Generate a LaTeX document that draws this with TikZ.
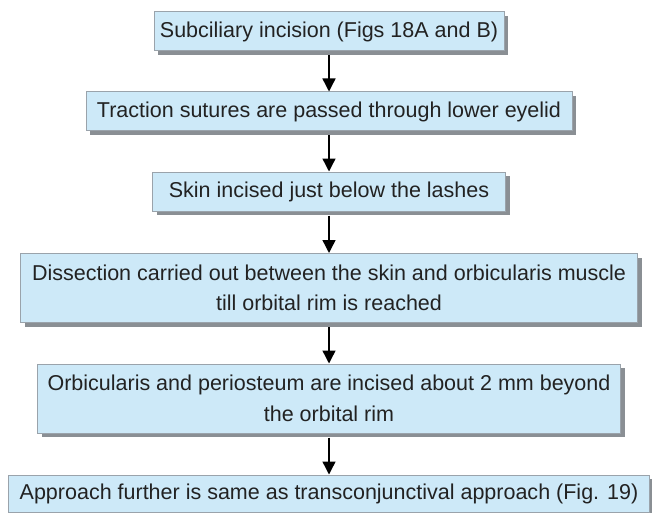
\documentclass[tikz,border=0pt]{standalone}
\usepackage{fontspec}
\setmainfont{Liberation Sans}
\usetikzlibrary{arrows.meta,shadows}
\definecolor{boxfill}{HTML}{CDE9F8}
\definecolor{boxline}{HTML}{9AA3AB}
\definecolor{shadowc}{HTML}{8A8F94}
\definecolor{txt}{HTML}{222222}
\begin{document}
\begin{tikzpicture}[x=1pt,y=-1pt,
  flowbox/.style={draw=boxline, line width=1pt, fill=boxfill, inner sep=0pt,
    align=center, text=txt, font=\fontsize{21.5}{30.5}\selectfont,
    drop shadow={shadow xshift=4pt, shadow yshift=-4pt, fill=shadowc, opacity=1}},
  arr/.style={draw=black, line width=1.4pt, -{Triangle[width=13pt,length=13pt]}, shorten <=4pt}]
\useasboundingbox (0,0) rectangle (652,513);
\node[flowbox, minimum width=350pt, minimum height=39pt] (b1) at (329,31.5) {Subciliary incision (Figs 18A and B)};
\node[flowbox, minimum width=486pt, minimum height=39pt] (b2) at (329,111.5) {Traction sutures are passed through lower eyelid};
\node[flowbox, minimum width=353pt, minimum height=39pt] (b3) at (329,191.5) {Skin incised just below the lashes};
\node[flowbox, minimum width=617pt, minimum height=69pt] (b4) at (329,288) {Dissection carried out between the skin and orbicularis muscle\\till orbital rim is reached};
\node[flowbox, minimum width=583pt, minimum height=69pt] (b5) at (329,398.5) {Orbicularis and periosteum are incised about 2 mm beyond\\the orbital rim};
\node[flowbox, minimum width=641pt, minimum height=37pt] (b6) at (329,493.5) {Approach further is same as transconjunctival approach (Fig. 19)};
\draw[arr] (b1.south) -- (b2.north);
\draw[arr] (b2.south) -- (b3.north);
\draw[arr] (b3.south) -- (b4.north);
\draw[arr] (b4.south) -- (b5.north);
\draw[arr] (b5.south) -- (b6.north);
\end{tikzpicture}
\end{document}
